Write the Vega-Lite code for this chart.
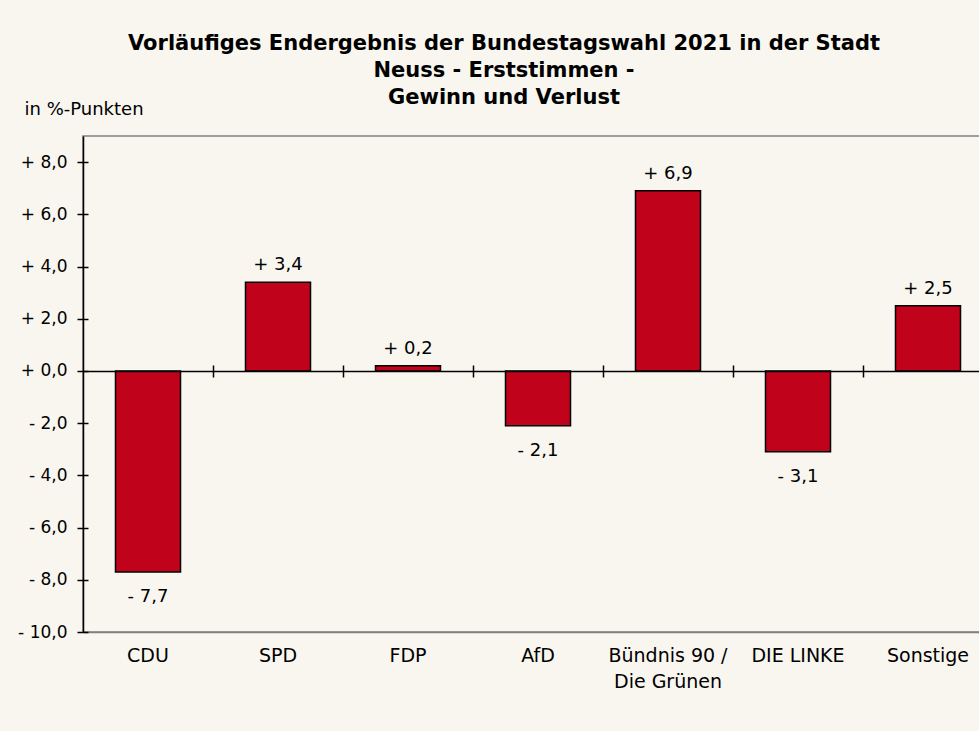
{
  "$schema": "https://vega.github.io/schema/vega-lite/v6.json",
  "autosize": {"type": "none"},
  "width": 910,
  "height": 496,
  "padding": {"left": 83, "top": 136, "right": 0, "bottom": 99},
  "background": "#F8F6EF",
  "config": {
    "font": "DejaVu Sans",
    "view": {"stroke": "#808080", "strokeWidth": 1.5, "fill": "#F8F6EF"}
  },
  "title": {
    "text": ["Vorläufiges Endergebnis der Bundestagswahl 2021 in der Stadt", "Neuss - Erststimmen -", "Gewinn und Verlust"],
    "font": "DejaVu Sans",
    "fontSize": 21,
    "fontWeight": "bold",
    "color": "#000000",
    "lineHeight": 27,
    "anchor": "middle",
    "dx": -34,
    "offset": -8
  },
  "data": {
    "values": [
      {"party": "CDU", "v": -7.7},
      {"party": "SPD", "v": 3.4},
      {"party": "FDP", "v": 0.2},
      {"party": "AfD", "v": -2.1},
      {"party": "Bündnis 90 /\nDie Grünen", "v": 6.9},
      {"party": "DIE LINKE", "v": -3.1},
      {"party": "Sonstige", "v": 2.5}
    ]
  },
  "transform": [
    {"calculate": "(datum.v >= 0 ? '+ ' : '- ') + replace(format(abs(datum.v), '.1f'), '.', ',')", "as": "lbl"}
  ],
  "encoding": {
    "x": {"field": "party", "type": "nominal", "sort": null,
      "scale": {"paddingInner": 0.5, "paddingOuter": 0.25}}
  },
  "layer": [
    {
      "mark": {"type": "bar", "color": "#C0031B", "stroke": "#000000", "strokeWidth": 1.5},
      "encoding": {
        "x": {"field": "party", "type": "nominal", "sort": null,
          "axis": {"orient": "bottom", "labels": false, "title": null, "domainColor": "#000000", "domainWidth": 1.5,
            "tickColor": "#000000", "tickWidth": 1.5, "tickSize": 6, "tickOffset": 65, "offset": -261, "zindex": 1}},
        "y": {"field": "v", "type": "quantitative",
          "scale": {"domain": [-10, 9], "nice": false},
          "axis": {
            "orient": "left",
            "values": [-10, -8, -6, -4, -2, 0, 2, 4, 6, 8],
            "labelExpr": "(datum.value >= 0 ? '+ ' : '- ') + replace(format(abs(datum.value), '.1f'), '.', ',')",
            "labelFont": "DejaVu Sans", "labelFontSize": 17, "labelColor": "#000000",
            "labelPadding": 10, "tickSize": 6, "tickColor": "#000000", "tickWidth": 1.5,
            "domainColor": "#000000", "domainWidth": 1.5, "grid": false,
            "title": "in %-Punkten", "titleAngle": 0, "titleAlign": "left", "titleBaseline": "bottom",
            "titleX": -59, "titleY": -18, "titleFont": "DejaVu Sans", "titleFontSize": 18, "titleFontWeight": "normal", "titleColor": "#000000"
          }}
      }
    },
    {
      "transform": [{"filter": "datum.v >= 0"}],
      "mark": {"type": "text", "baseline": "bottom", "dy": -8, "fontSize": 18, "color": "#000000"},
      "encoding": {
        "x": {"field": "party", "type": "nominal", "sort": null,
          "axis": {"orient": "bottom", "labelExpr": "split(datum.label, '\\n')", "labelAngle": 0, "labelFont": "DejaVu Sans", "labelFontSize": 19,
            "labelColor": "#000000", "labelPadding": 14, "labelLineHeight": 26, "ticks": false, "domainColor": "#808080",
            "domainWidth": 1.5, "title": null}},
        "y": {"field": "v", "type": "quantitative",
          "axis": {"orient": "left", "values": [-10, -8, -6, -4, -2, 0, 2, 4, 6, 8], "labels": false, "domain": false,
            "grid": false, "title": null, "tickColor": "#000000", "tickWidth": 1.5, "tickSize": -5, "zindex": 1}},
        "text": {"field": "lbl"}
      }
    },
    {
      "transform": [{"filter": "datum.v < 0"}],
      "mark": {"type": "text", "baseline": "top", "dy": 16, "fontSize": 18, "color": "#000000"},
      "encoding": {
        "x": {"field": "party", "type": "nominal", "sort": null,
          "axis": {"orient": "bottom", "labels": false, "title": null, "domain": false,
            "tickColor": "#000000", "tickWidth": 1.5, "tickSize": -6, "tickOffset": 65, "offset": -261, "zindex": 1}},
        "y": {"field": "v", "type": "quantitative", "axis": null},
        "text": {"field": "lbl"}
      }
    }
  ],
  "resolve": {"axis": {"x": "independent", "y": "independent"}}
}
